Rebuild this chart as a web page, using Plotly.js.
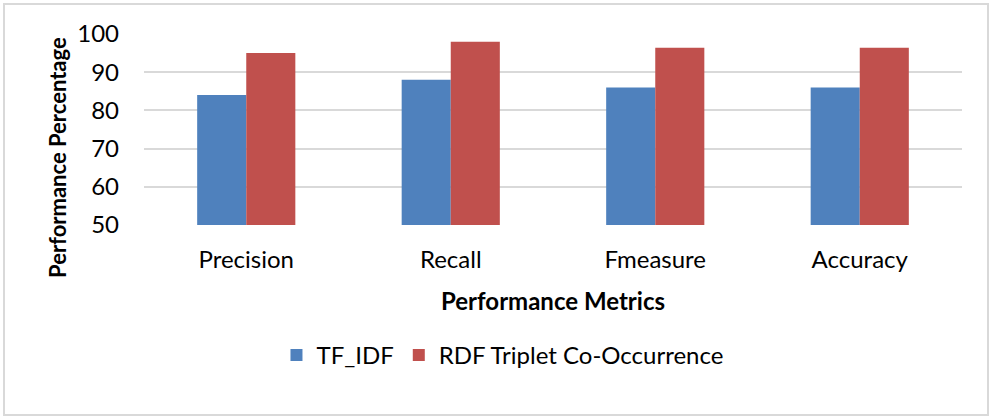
<!DOCTYPE html>
<html>
<head>
<meta charset="utf-8">
<script src="https://cdn.plot.ly/plotly-3.0.1.min.js"></script>
<style>
  html, body { margin: 0; padding: 0; background: #fff; }
  #wrap { position: relative; width: 995px; height: 419px; }
  #chart { width: 995px; height: 419px; }
  #frame { position: absolute; left: 3px; top: 3px; width: 982px; height: 409px;
           border: 2px solid #d9d9d9; pointer-events: none; }
</style>
</head>
<body>
<div id="wrap">
  <div id="chart"></div>
  <div id="frame"></div>
</div>
<script>
const categories = ["Precision", "Recall", "Fmeasure", "Accuracy"];
const tfidf = [84, 88, 86, 86];
const rdf = [95, 98, 96.4, 96.4];
const seriesNames = ["TF_IDF", "RDF Triplet Co-Occurrence"];
const yTicks = [50, 60, 70, 80, 90, 100];
const xTitle = "Performance Metrics";
const yTitle = "Performance Percentage";

const FONT = "Lato, 'Open Sans', sans-serif";

const traces = [
  { type: "bar", name: seriesNames[0], x: categories, y: tfidf,
    marker: { color: "#4F81BD" }, hoverinfo: "x+y" },
  { type: "bar", name: seriesNames[1], x: categories, y: rdf,
    marker: { color: "#C0504D" }, hoverinfo: "x+y" }
];

const layout = {
  width: 995, height: 419,
  margin: { l: 144, r: 33, t: 34, b: 194 },
  paper_bgcolor: "#fff", plot_bgcolor: "#fff",
  barmode: "group",
  bargap: 0.52, bargroupgap: 0,
  font: { family: FONT, size: 24, color: "#000" },
  showlegend: true,
  legend: {
    orientation: "h", xref: "container", x: 0.505, xanchor: "center",
    yref: "container", y: 0.152, yanchor: "middle",
    font: { family: FONT, size: 24, color: "#000" },
    itemwidth: 30, traceorder: "normal"
  },
  xaxis: {
    type: "category",
    showgrid: false, zeroline: false, showline: false,
    ticks: "", ticklabelstandoff: 18,
    tickfont: { family: FONT, size: 24, color: "#000" }
  },
  yaxis: {
    range: [50, 100], tickvals: yTicks, ticktext: yTicks.map(String),
    showgrid: true, gridcolor: "#d9d9d9", gridwidth: 2,
    zeroline: false, showline: false, ticks: "",
    ticklabelstandoff: 24,
    tickfont: { family: FONT, size: 24, color: "#000" }
  },
  annotations: [
    { text: "<b>" + xTitle + "</b>", xref: "paper", yref: "paper",
      x: 0.5, y: -0.3927, xanchor: "center", yanchor: "middle",
      showarrow: false, font: { family: FONT, size: 24, color: "#000" } },
    { text: "<b>" + yTitle + "</b>", xref: "paper", yref: "paper",
      x: -0.1064, y: 0.356, xanchor: "center", yanchor: "middle",
      textangle: -90, showarrow: false,
      font: { family: FONT, size: 22, color: "#000" } }
  ]
};

Plotly.newPlot("chart", traces, layout, { displayModeBar: false, staticPlot: true });
</script>
</body>
</html>
